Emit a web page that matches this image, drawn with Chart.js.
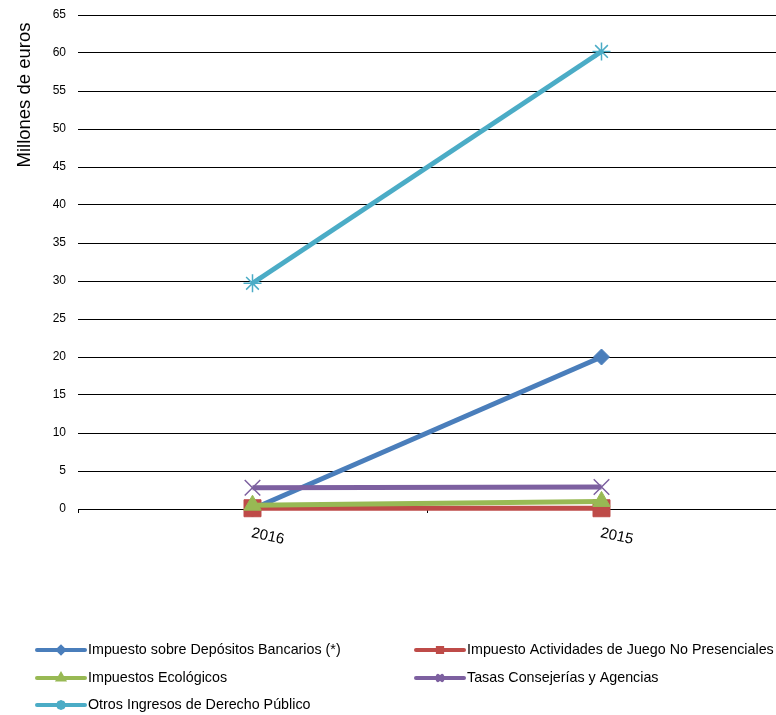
<!DOCTYPE html>
<html>
<head>
<meta charset="utf-8">
<script src="https://cdn.jsdelivr.net/npm/chart.js@4"></script>
<style>
  html, body { margin: 0; padding: 0; background: #fff; overflow: hidden; }
  #wrap { width: 776px; height: 715px; }
</style>
</head>
<body>
<div id="wrap"><canvas id="lineChart"></canvas></div>
<script>
const years = ['2016', '2015'];
const seriesNames = [
  'Impuesto sobre Depósitos Bancarios (*)',
  'Impuesto Actividades de Juego No Presenciales',
  'Impuestos Ecológicos',
  'Tasas Consejerías y Agencias',
  'Otros Ingresos de Derecho Público'
];
const depositos = [0, 20.0];
const juego = [0.1, 0.1];
const ecologicos = [0.5, 1.0];
const tasas = [2.8, 2.9];
const otros = [29.7, 60.2];
const yTicks = [0, 5, 10, 15, 20, 25, 30, 35, 40, 45, 50, 55, 60, 65];

const colors = ['#4A7EBB', '#BE4B48', '#98B954', '#7D60A0', '#4BACC6'];
const markers = ['rectRot', 'rect', 'triangle', 'crossRot', 'star'];
const markerSize = [8, 12, 10, 11, 9];
const values = [depositos, juego, ecologicos, tasas, otros];
const FONT = '"Liberation Sans", Arial, sans-serif';

// axis title, rotated x labels and the legend are drawn by hand
const extras = {
  id: 'extras',
  afterDraw(chart) {
    const ctx = chart.ctx;
    const x = chart.scales.x;
    ctx.save();
    ctx.fillStyle = '#000';

    // y axis title
    ctx.save();
    ctx.translate(25, 95);
    ctx.rotate(-Math.PI / 2);
    ctx.font = '18.5px ' + FONT;
    ctx.textAlign = 'center';
    ctx.textBaseline = 'middle';
    ctx.fillText('Millones de euros', 0, 0);
    ctx.restore();

    ctx.font = '15px ' + FONT;
    ctx.textBaseline = 'middle';
    ctx.textAlign = 'left';
    years.forEach((y, i) => {
      ctx.save();
      ctx.translate(x.getPixelForTick(i) - 1, chart.chartArea.bottom + 24);
      ctx.rotate(12 * Math.PI / 180);
      ctx.fillText(y, 0, 0);
      ctx.restore();
    });

    // legend
    const cols = [37, 416];
    const rows = [650, 678, 705];
    ctx.font = '14.3px ' + FONT;
    seriesNames.forEach((name, i) => {
      const lx = cols[i % 2];
      const ly = rows[Math.floor(i / 2)];
      ctx.strokeStyle = colors[i];
      ctx.fillStyle = colors[i];
      ctx.lineWidth = 4;
      ctx.lineCap = 'round';
      ctx.beginPath();
      ctx.moveTo(lx, ly);
      ctx.lineTo(lx + 48, ly);
      ctx.stroke();
      Chart.helpers.drawPoint(ctx, {
        pointStyle: markers[i], radius: 3, borderWidth: 1.5, rotation: 0
      }, lx + 24, ly);
      ctx.fillStyle = '#000';
      ctx.fillText(name, lx + 51, ly);
    });
    ctx.restore();
  }
};

const datasets = values.map((v, i) => ({
  label: seriesNames[i],
  data: v,
  borderColor: colors[i],
  backgroundColor: colors[i],
  borderWidth: 5,
  pointStyle: markers[i],
  pointRadius: markerSize[i],
  pointBorderWidth: i >= 3 ? 1.5 : 1,
  pointBorderColor: colors[i],
  pointBackgroundColor: colors[i],
  order: 5 - i,
  clip: false,
  tension: 0
}));

new Chart(document.getElementById('lineChart'), {
  type: 'line',
  data: { labels: years, datasets: datasets },
  plugins: [extras],
  options: {
    responsive: true,
    maintainAspectRatio: false,
    animation: false,
    layout: { autoPadding: false, padding: { top: 15, right: 0, bottom: 202, left: 0 } },
    plugins: {
      legend: { display: false },
      tooltip: { enabled: false }
    },
    scales: {
      x: {
        offset: true,
        ticks: { display: false },
        grid: {
          offset: true,
          drawOnChartArea: false,
          drawTicks: true,
          tickLength: 4,
          color: '#000'
        },
        border: { display: true, color: '#000', width: 1 }
      },
      y: {
        min: 0,
        max: 65,
        afterBuildTicks(scale) {
          scale.ticks = yTicks.map(v => ({ value: v }));
        },
        afterFit(scale) {
          scale.width = 78;
          scale.paddingTop = 0;
          scale.paddingBottom = 0;
        },
        ticks: {
          color: '#000',
          padding: 12,
          font: { size: 12, family: FONT }
        },
        grid: { color: '#000', lineWidth: 1, drawTicks: false },
        border: { display: false }
      }
    }
  }
});
</script>
</body>
</html>
